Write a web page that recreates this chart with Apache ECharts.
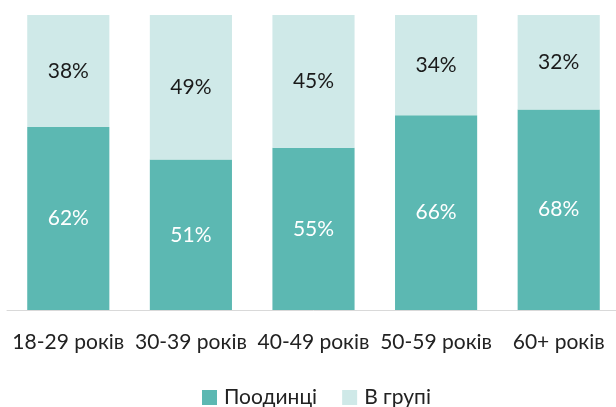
<!DOCTYPE html>
<html><head><meta charset="utf-8">
<script src="https://cdn.jsdelivr.net/npm/echarts@6/dist/echarts.min.js"></script>
<style>html,body{margin:0;padding:0;background:#fff;overflow:hidden;width:616px;height:407px}#c{width:620px;height:407px}</style>
</head><body><div id="c"></div>
<script>
const categories = ['18-29 років', '30-39 років', '40-49 років', '50-59 років', '60+ років'];
const alone = [62, 51, 55, 66, 68];
const group = [38, 49, 45, 34, 32];
const seriesNames = ['Поодинці', 'В групі'];

const chart = echarts.init(document.getElementById('c'));
const font = 'Lato, "Noto Sans", sans-serif';
chart.setOption({
  animation: false,
  textStyle: { fontFamily: font },
  grid: { left: 7, right: 0, top: 15, height: 295, containLabel: false },
  legend: {
    top: 387, left: 202, padding: 0, itemWidth: 15, itemHeight: 15, itemGap: 25,
    icon: 'rect',
    textStyle: { fontSize: 21, color: '#222', fontFamily: font, padding: [0, 0, 0, 2] },
    data: seriesNames
  },
  xAxis: {
    type: 'category', data: categories,
    axisLine: { show: true, lineStyle: { color: '#d9d9d9', width: 1 } },
    axisTick: { show: false },
    axisLabel: { fontSize: 21, color: '#222', margin: 22, interval: 0 }
  },
  yAxis: { type: 'value', min: 0, max: 100, show: false, splitLine: { show: false } },
  series: [
    {
      name: seriesNames[0], type: 'bar', stack: 's', data: alone, barCategoryGap: '33%',
      itemStyle: { color: '#5cb8b2' },
      label: { show: true, position: 'inside', formatter: '{c}%', color: '#fff', fontSize: 21 }
    },
    {
      name: seriesNames[1], type: 'bar', stack: 's', data: group, barCategoryGap: '33%',
      itemStyle: { color: '#cfe9e8' },
      label: { show: true, position: 'inside', formatter: '{c}%', color: '#1a1a1a', fontSize: 21 }
    }
  ]
});
</script></body></html>
